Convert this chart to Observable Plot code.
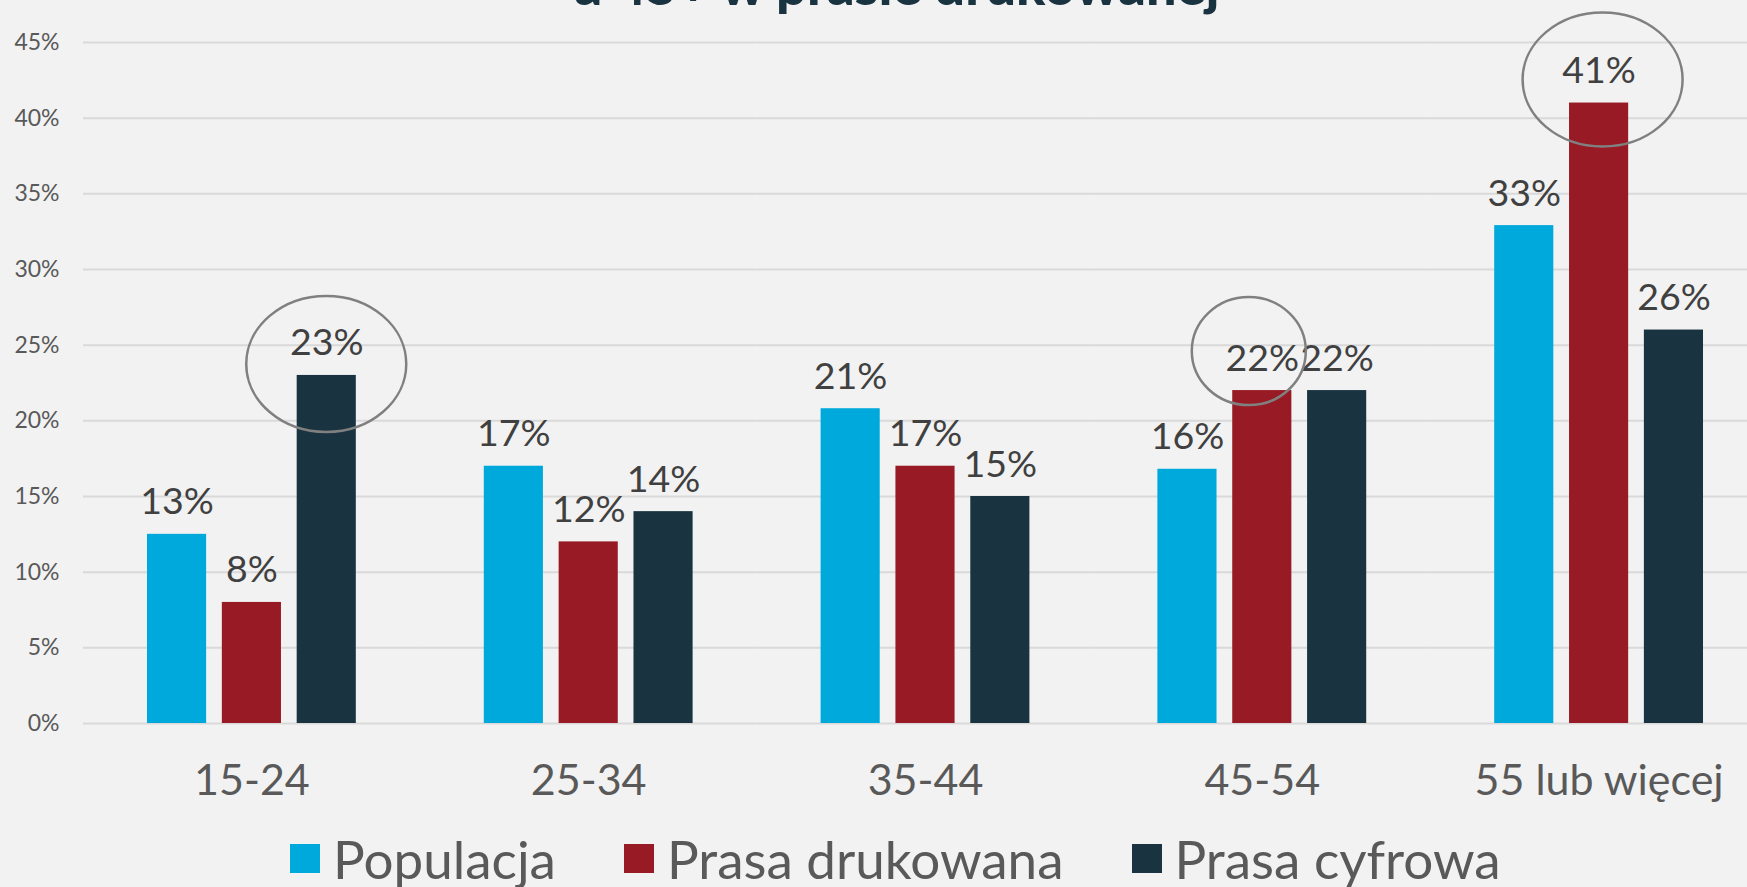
<!DOCTYPE html>
<html>
<head>
<meta charset="utf-8">
<script src="https://cdn.jsdelivr.net/npm/d3@7"></script>
<script src="https://cdn.jsdelivr.net/npm/@observablehq/plot@0.6"></script>
<style>
  html, body { margin: 0; padding: 0; background: #f2f2f2; overflow: hidden; }
  #wrap { position: relative; width: 1747px; height: 887px; overflow: hidden; font-family: Lato, "Open Sans", sans-serif; }
  #title { position: absolute; left: 0; top: -42px; width: 1794px; text-align: center; font-size: 54px; line-height: 1; font-weight: 900; color: #1a3340; white-space: nowrap; }
  #chart { position: absolute; left: 0; top: 0; width: 1767px; }
  #chart svg { max-width: none !important; }
  #legend { position: absolute; left: 290px; top: 832px; display: flex; align-items: center; font-size: 53px; line-height: 1; color: #595959; white-space: nowrap; }
  .item { display: flex; align-items: center; margin-right: 68px; }
  .sw { width: 30px; height: 29px; margin-right: 13px; }
</style>
</head>
<body>
<div id="wrap">
  <div id="chart"></div>
  <div id="title">a 45+ w prasie drukowanej</div>
  <div id="legend"></div>
</div>
<script>
const groups = ["15-24", "25-34", "35-44", "45-54", "55 lub więcej"];
const series = ["Populacja", "Prasa drukowana", "Prasa cyfrowa"];
const populacja = [12.5, 17.0, 20.8, 16.8, 32.9];
const drukowana = [8, 12, 17, 22, 41];
const cyfrowa = [23, 14, 15, 22, 26];
const populacjaLabels = ["13%", "17%", "21%", "16%", "33%"];
const drukowanaLabels = ["8%", "12%", "17%", "22%", "41%"];
const cyfrowaLabels = ["23%", "14%", "15%", "22%", "26%"];
const yTicks = [0, 5, 10, 15, 20, 25, 30, 35, 40, 45];
const colors = ["#00a9db", "#971a24", "#1a3340"];
const highlightGroups = ["15-24", "45-54", "55 lub więcej"];
const highlightSeries = ["Prasa cyfrowa", "Prasa drukowana", "Prasa drukowana"];
// annotation ellipse styling (pixel offsets/radii relative to the highlighted bar top)
const ellipseStyle = [
  {dx: 0, dy: -11, rx: 80, ry: 68},
  {dx: -13, dy: -39, rx: 57, ry: 54},
  {dx: 4, dy: -23, rx: 80, ry: 67}
];

const valueSets = [populacja, drukowana, cyfrowa];
const labelSets = [populacjaLabels, drukowanaLabels, cyfrowaLabels];
const rows = groups.flatMap((g, i) => series.map((s, j) => ({group: g, series: s, value: valueSets[j][i], label: labelSets[j][i]})));
const highlights = highlightGroups.map((g, k) => {
  const r = rows.find(d => d.group === g && d.series === highlightSeries[k]);
  return {group: g, series: r.series, value: r.value, k};
});

const chart = Plot.plot({
  width: 1767,
  height: 810,
  marginTop: 42,
  marginBottom: 87,
  marginLeft: 83,
  marginRight: 0,
  style: {fontFamily: "Lato, 'Open Sans', sans-serif", background: "transparent", overflow: "visible", maxWidth: "none"},
  fx: {domain: groups, paddingInner: 0, paddingOuter: 0, round: false, label: null},
  x: {domain: series, paddingInner: 0.21, paddingOuter: 0.855, round: false, axis: null},
  y: {domain: [0, 45], label: null},
  color: {domain: series, range: colors},
  marks: [
    Plot.gridY(yTicks, {stroke: "#d9d9d9", strokeOpacity: 1, strokeWidth: 2}),
    Plot.axisY(yTicks, {tickSize: 0, tickPadding: 24, fontSize: 23, tickFormat: d => d + "%", color: "#595959", label: null}),
    Plot.axisFx({anchor: "bottom", tickSize: 0, tickPadding: 41, fontSize: 43, color: "#595959", label: null}),
    Plot.barY(rows, {fx: "group", x: "series", y: "value", fill: "series"}),
    Plot.text(rows, {fx: "group", x: "series", y: "value", text: "label", lineAnchor: "bottom", dy: -20, fontSize: 37.5, fill: "#404040"}),
    Plot.dot(highlights, {
      fx: "group", x: "series", y: "value",
      render: (index, scales, values, dimensions, context) => {
        let bw = 0;
        if (scales.scales && scales.scales.x && typeof scales.scales.x.bandwidth === "number") bw = scales.scales.x.bandwidth;
        else if (scales.x && typeof scales.x.bandwidth === "function") bw = scales.x.bandwidth();
        const g = d3.create("svg:g");
        for (const i of index) {
          const s = ellipseStyle[highlights[i].k];
          g.append("ellipse")
            .attr("cx", values.x[i] + bw / 2 + s.dx)
            .attr("cy", values.y[i] + s.dy)
            .attr("rx", s.rx)
            .attr("ry", s.ry)
            .attr("fill", "none")
            .attr("stroke", "#808080")
            .attr("stroke-width", 2.5);
        }
        return g.node();
      }
    })
  ]
});
document.getElementById("chart").appendChild(chart);

const legend = document.getElementById("legend");
series.forEach((s, j) => {
  const item = document.createElement("div");
  item.className = "item";
  const sw = document.createElement("div");
  sw.className = "sw";
  sw.style.background = colors[j];
  const t = document.createElement("span");
  t.textContent = s;
  item.appendChild(sw);
  item.appendChild(t);
  legend.appendChild(item);
});
</script>
</body>
</html>
